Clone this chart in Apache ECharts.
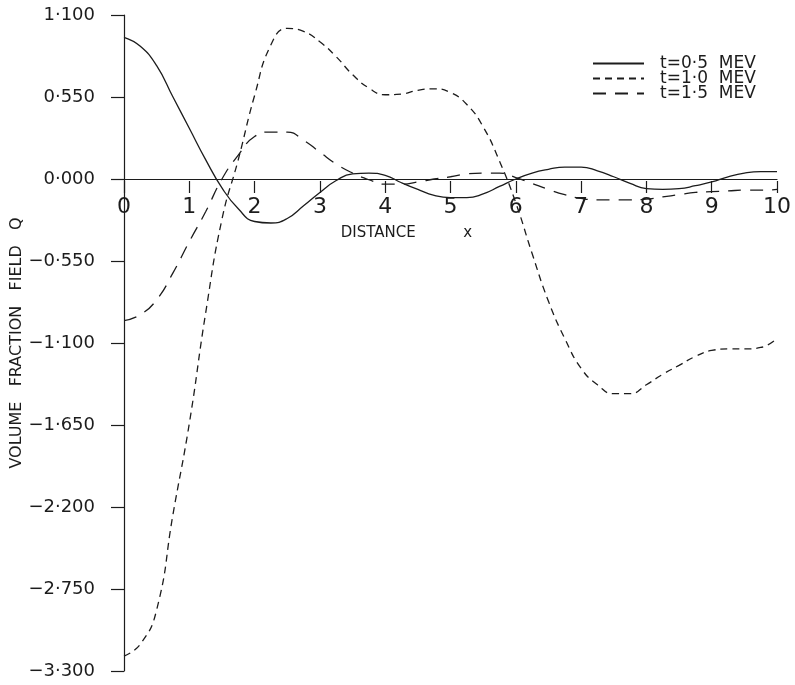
<!DOCTYPE html>
<html>
<head>
<meta charset="utf-8">
<script src="https://cdn.jsdelivr.net/npm/echarts@6/dist/echarts.min.js"></script>
<style>
html,body{margin:0;padding:0;background:#fff;}
#chart{width:795px;height:685px;}
</style>
</head>
<body>
<div id="chart"></div>
<script>
// ---- data ----
const xValues = [0,0.25,0.5,0.75,1,1.25,1.5,1.75,2,2.25,2.5,2.75,3,3.25,3.5,3.75,4,4.25,4.5,4.75,5,5.25,5.5,5.75,6,6.25,6.5,6.75,7,7.25,7.5,7.75,8,8.25,8.5,8.75,9,9.25,9.5,9.75,10];
const seriesNames = ['t=0·5  MEV', 't=1·0  MEV', 't=1·5  MEV'];
const t05 = [0.95,0.89,0.76,0.55,0.34,0.13,-0.06,-0.20,-0.285,-0.295,-0.265,-0.18,-0.09,-0.01,0.035,0.04,0.025,-0.025,-0.07,-0.11,-0.125,-0.125,-0.10,-0.05,0.0,0.04,0.065,0.08,0.08,0.055,0.015,-0.03,-0.065,-0.07,-0.065,-0.045,-0.02,0.015,0.04,0.05,0.05];
const t10 = [-3.2,-3.12,-2.89,-2.25,-1.64,-0.9,-0.27,0.13,0.56,0.90,1.01,0.99,0.92,0.82,0.70,0.61,0.565,0.57,0.595,0.605,0.58,0.50,0.35,0.12,-0.16,-0.50,-0.82,-1.07,-1.27,-1.38,-1.44,-1.44,-1.38,-1.31,-1.25,-1.19,-1.15,-1.14,-1.14,-1.13,-1.07];
const t15 = [-0.95,-0.91,-0.81,-0.63,-0.42,-0.22,0.0,0.16,0.285,0.315,0.315,0.26,0.18,0.10,0.04,-0.005,-0.035,-0.035,-0.02,0.0,0.015,0.035,0.04,0.04,0.01,-0.03,-0.07,-0.105,-0.13,-0.14,-0.14,-0.14,-0.135,-0.12,-0.105,-0.09,-0.085,-0.08,-0.075,-0.075,-0.07];
const yTickLabels = ['−3·300','−2·750','−2·200','−1·650','−1·100','−0·550','0·000','0·550','1·100'];
const xTickLabels = ['0','1','2','3','4','5','6','7','8','9','10'];
const xAxisTitle = 'DISTANCE          x';
const yAxisTitle = 'VOLUME   FRACTION   FIELD   Q';

const pairs = ys => xValues.map((x, i) => [x, ys[i]]);
const ink = '#1c1c1c';
const font = 'DejaVu Sans';

const chart = echarts.init(document.getElementById('chart'), null, {renderer: 'canvas'});
chart.setOption({
  backgroundColor: '#ffffff',
  animation: false,
  textStyle: {fontFamily: font},
  grid: [
    // main plotting grid
    {left: 124, right: 18, top: 15, bottom: 14, containLabel: false, outerBoundsMode: 'none'},
    // upper part of the plot: its bottom edge is the y = 0 line, carrying the x tick labels
    {left: 124, right: 18, top: 15, bottom: 504, containLabel: false, outerBoundsMode: 'none'},
    // thin strip just below the y = 0 line: its vertical split lines are the x ticks
    {left: 124, right: 18, top: 181, bottom: 492, containLabel: false, outerBoundsMode: 'none'}
  ],
  legend: {
    orient: 'vertical',
    left: 592, top: 55, padding: 0,
    itemWidth: 51, itemHeight: 15, itemGap: -2,
    itemStyle: {opacity: 0},
    textStyle: {fontFamily: font, fontSize: 17, color: ink, padding: [0,0,0,11], lineHeight: 15},
    data: seriesNames
  },
  xAxis: [
    {
      gridIndex: 0, type: 'value', min: 0, max: 10, interval: 1,
      axisLine: {show: true, onZero: true, lineStyle: {color: ink, width: 1.2}},
      axisTick: {show: false},
      axisLabel: {show: false},
      splitLine: {show: false}
    },
    {
      gridIndex: 1, type: 'value', min: 0, max: 10, interval: 1, position: 'bottom',
      name: xAxisTitle, nameLocation: 'middle', nameGap: 45,
      nameTextStyle: {fontFamily: font, fontSize: 15, color: ink, padding: [0, 88, 0, 0]},
      axisLine: {show: false, onZero: false},
      axisTick: {show: false},
      axisLabel: {margin: 15, fontFamily: font, fontSize: 22, color: ink,
        formatter: (v, i) => xTickLabels[i]},
      splitLine: {show: false}
    },
    {
      gridIndex: 2, type: 'value', min: 0, max: 10, interval: 1,
      axisLine: {show: false, onZero: false},
      axisTick: {show: false},
      axisLabel: {show: false},
      splitLine: {show: true, showMinLine: true, showMaxLine: true, lineStyle: {color: ink, width: 1.2, type: 'solid'}}
    }
  ],
  yAxis: [
    {
      gridIndex: 0, type: 'value', min: -3.3, max: 1.1, interval: 0.55,
      name: yAxisTitle, nameLocation: 'middle', nameRotate: 90, nameGap: 99, nameMoveOverlap: false,
      nameTextStyle: {fontFamily: font, fontSize: 16, color: ink},
      axisLine: {show: true, onZero: false, lineStyle: {color: ink, width: 1.2}},
      axisTick: {show: true, inside: false, length: 13, lineStyle: {color: ink, width: 1.2}},
      axisLabel: {margin: 29, fontFamily: font, fontSize: 18, color: ink,
        formatter: (v, i) => yTickLabels[i]},
      splitLine: {show: false}
    },
    {gridIndex: 1, type: 'value', show: false},
    {gridIndex: 2, type: 'value', show: false}
  ],
  series: [
    {name: seriesNames[0], type: 'line', xAxisIndex: 0, yAxisIndex: 0, data: pairs(t05), smooth: true, symbol: 'none',
     lineStyle: {color: ink, width: 1.3, type: 'solid'}, itemStyle: {color: ink}},
    {name: seriesNames[1], type: 'line', xAxisIndex: 0, yAxisIndex: 0, data: pairs(t10), smooth: true, symbol: 'none',
     lineStyle: {color: ink, width: 1.3, type: [7, 5]}, itemStyle: {color: ink}},
    {name: seriesNames[2], type: 'line', xAxisIndex: 0, yAxisIndex: 0, data: pairs(t15), smooth: true, symbol: 'none',
     lineStyle: {color: ink, width: 1.3, type: [13, 9]}, itemStyle: {color: ink}}
  ]
});
</script>
</body>
</html>
